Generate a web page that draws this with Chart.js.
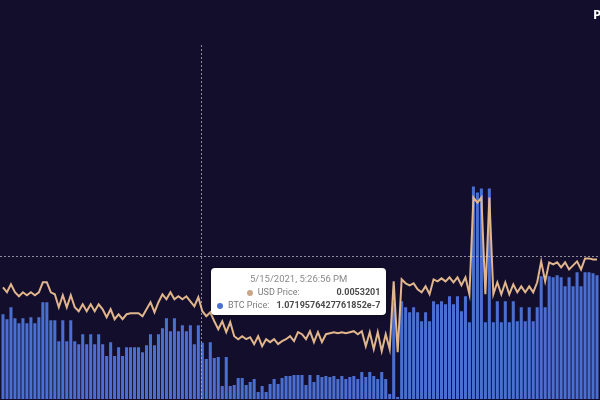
<!DOCTYPE html>
<html lang="en">
<head>
  <meta charset="UTF-8">
  <title>USD / BTC Price</title>
  <script src="https://cdn.jsdelivr.net/npm/chart.js"></script>
  <style>
    body {
      margin: 0;
      background-color: #120e2c;
      overflow: hidden;
      font-family: 'Open Sans', sans-serif;
    }
    #wrap {
      position: relative;
      width: 600px;
      height: 400px;
      overflow: hidden;
    }
    #corner {
      position: absolute;
      left: 593px;
      top: 5px;
      color: #ffffff;
      font: bold 13px 'Open Sans', sans-serif;
      white-space: nowrap;
    }
    #tip {
      position: absolute;
      display: none;
      background: #ffffff;
      border-radius: 4px;
      box-shadow: 0 1px 4px rgba(0, 0, 0, 0.35);
      padding: 3px 6px 3px 6px;
      font-family: Roboto, sans-serif;
      font-size: 9px;
      line-height: 13px;
      white-space: nowrap;
      pointer-events: none;
    }
    #tip .title {
      text-align: center;
      color: #8a8a8a;
      font-size: 9.5px;
      line-height: 15px;
    }
    #tip .row {
      display: flex;
    }
    #tip .label {
      flex: 1;
      display: flex;
      justify-content: center;
      align-items: center;
      color: #7a7a7a;
    }
    #tip .dot {
      width: 6px;
      height: 6px;
      border-radius: 50%;
      margin-right: 5px;
    }
    #tip .value {
      margin-left: 7px;
      font-weight: bold;
      color: #4a4a4a;
    }
  </style>
</head>
<body>

  <div id="wrap">
    <canvas id="priceChart"></canvas>
    <div id="corner">Price</div>
    <div id="tip"></div>
  </div>

  <script>
    // USD price of the token (line)
    const usdPrice = [
      0.005911, 0.005788, 0.005984, 0.005788, 0.005689, 0.005788, 0.005714, 0.005788, 0.005714, 0.005788,
      0.006034, 0.006034, 0.005788, 0.005738, 0.005419, 0.005714, 0.005419, 0.005714, 0.005419, 0.00532,
      0.005492, 0.00532, 0.005492, 0.00532, 0.005492, 0.005369, 0.005173, 0.005369, 0.005123, 0.005246,
      0.005123, 0.005246, 0.005271, 0.005271, 0.005271, 0.005197, 0.005369, 0.005542, 0.005296, 0.005542,
      0.005738, 0.005615, 0.005788, 0.005615, 0.005689, 0.005615, 0.005689, 0.005566, 0.005443, 0.005665,
      0.0053201, 0.005197, 0.005296, 0.005074, 0.004877, 0.005074, 0.004804, 0.00505, 0.004705, 0.004631,
      0.004705, 0.004631, 0.00468, 0.004508, 0.004705, 0.004459, 0.004631, 0.004558, 0.004631, 0.004508,
      0.004582, 0.004631, 0.004705, 0.004582, 0.004804, 0.004754, 0.004631, 0.004828, 0.004558, 0.004804,
      0.004558, 0.004754, 0.004779, 0.004804, 0.004779, 0.004804, 0.004779, 0.004804, 0.004828, 0.004754,
      0.004828, 0.004459, 0.004804, 0.004385, 0.004804, 0.004336, 0.004754, 0.004385, 0.006058, 0.004311,
      0.006107, 0.006009, 0.00596, 0.006009, 0.005861, 0.005788, 0.005935, 0.005738, 0.006107, 0.006058,
      0.006132, 0.006058, 0.006157, 0.006034, 0.006157, 0.00596, 0.006157, 0.005738, 0.008125, 0.008002,
      0.008125, 0.005738, 0.008125, 0.005738, 0.006034, 0.005738, 0.006034, 0.005738, 0.005984, 0.005788,
      0.005935, 0.005788, 0.005935, 0.005788, 0.006034, 0.00655, 0.006058, 0.006526, 0.006476, 0.006526,
      0.006403, 0.006526, 0.006353, 0.006452, 0.00655, 0.006353, 0.006624, 0.006624, 0.006599, 0.006599
    ];

    // BTC price of the token (bars)
    const btcPrice = [
      1.169e-7, 1.152e-7, 1.1928e-7, 1.1554e-7, 1.1384e-7, 1.1554e-7, 1.1384e-7, 1.1588e-7, 1.1384e-7, 1.1588e-7,
      1.2098e-7, 1.2098e-7, 1.1486e-7, 1.1486e-7, 1.0772e-7, 1.1486e-7, 1.0772e-7, 1.1486e-7, 1.0772e-7, 1.067e-7,
      1.101e-7, 1.067e-7, 1.101e-7, 1.067e-7, 1.101e-7, 1.067e-7, 1.0262e-7, 1.0738e-7, 1.0262e-7, 1.0568e-7,
      1.0262e-7, 1.0568e-7, 1.0568e-7, 1.0568e-7, 1.0568e-7, 1.0398e-7, 1.0636e-7, 1.101e-7, 1.0636e-7, 1.101e-7,
      1.1214e-7, 1.1554e-7, 1.1112e-7, 1.1554e-7, 1.1112e-7, 1.1316e-7, 1.1112e-7, 1.1316e-7, 1.067e-7, 1.1316e-7,
      1.0719576427761852e-7, 1.016e-7, 1.0738e-7, 1.0194e-7, 1.0228e-7, 0.9242e-7, 1.0228e-7, 0.9242e-7, 0.9276e-7, 0.9514e-7,
      0.9514e-7, 0.9276e-7, 0.9378e-7, 0.948e-7, 0.9038e-7, 0.9242e-7, 0.9038e-7, 0.931e-7, 0.948e-7, 0.931e-7,
      0.9514e-7, 0.9582e-7, 0.9582e-7, 0.9616e-7, 0.9616e-7, 0.9616e-7, 0.9276e-7, 0.9616e-7, 0.9378e-7, 0.9616e-7,
      0.9548e-7, 0.9582e-7, 0.9548e-7, 0.9582e-7, 0.948e-7, 0.9582e-7, 0.948e-7, 0.9548e-7, 0.9582e-7, 0.948e-7,
      0.9718e-7, 0.9548e-7, 0.9718e-7, 0.9582e-7, 0.948e-7, 0.9718e-7, 0.948e-7, 0.897e-7, 1.2098e-7, 0.8868e-7,
      1.2132e-7, 1.1928e-7, 1.1758e-7, 1.1928e-7, 1.1758e-7, 1.1452e-7, 1.1758e-7, 1.1452e-7, 1.2132e-7, 1.203e-7,
      1.2132e-7, 1.203e-7, 1.2302e-7, 1.203e-7, 1.2302e-7, 1.1792e-7, 1.2302e-7, 1.1418e-7, 1.6042e-7, 1.5838e-7,
      1.5974e-7, 1.1418e-7, 1.5974e-7, 1.1418e-7, 1.2132e-7, 1.1418e-7, 1.2132e-7, 1.1418e-7, 1.2132e-7, 1.1452e-7,
      1.1928e-7, 1.1452e-7, 1.1928e-7, 1.1452e-7, 1.1928e-7, 1.2982e-7, 1.1928e-7, 1.2982e-7, 1.2948e-7, 1.3016e-7,
      1.2948e-7, 1.2642e-7, 1.2948e-7, 1.2642e-7, 1.3118e-7, 1.2642e-7, 1.3118e-7, 1.3118e-7, 1.3084e-7, 1.3016e-7
    ];

    // time of the hovered sample and spacing between samples (seconds)
    const hoverIndex = 50;
    const hoverTime = new Date(2021, 4, 15, 17, 26, 56);
    const stepSeconds = 300;
    const timeLabels = btcPrice.map((_, i) =>
      new Date(hoverTime.getTime() + (i - hoverIndex) * stepSeconds * 1000).toLocaleString('en-US'));

    // visible ranges of the two hidden axes
    const btcRange = [0.88e-7, 2.087e-7];
    const usdRange = [0.0031553, 0.0118883];
    const crosshairBtc = 1.366e-7; // mouse height, on the BTC axis

    const lineColor = '#e2b68c';
    const barColor = '#4b6fd1';

    // crosshair drawn over the data
    const crosshair = {
      id: 'crosshair',
      afterDatasetsDraw(chart) {
        const { ctx, chartArea, scales } = chart;
        const x = Math.round(scales.x.getPixelForValue(hoverIndex)) - 0.5;
        const y = Math.round(scales.y.getPixelForValue(crosshairBtc)) + 0.5;
        ctx.save();
        ctx.setLineDash([2, 2]);
        ctx.lineWidth = 1;
        ctx.strokeStyle = 'rgba(190, 180, 195, 0.75)';
        ctx.beginPath();
        ctx.moveTo(x, chartArea.top);
        ctx.lineTo(x, chartArea.bottom);
        ctx.moveTo(0, y);
        ctx.lineTo(chart.width, y);
        ctx.stroke();
        ctx.restore();
      }
    };

    function renderTip({ chart, tooltip }) {
      const el = document.getElementById('tip');
      if (tooltip.opacity === 0 || !tooltip.dataPoints.length) {
        el.style.display = 'none';
        return;
      }
      const idx = tooltip.dataPoints[0].dataIndex;
      let html = `<div class="title">${timeLabels[idx]}</div>`;
      tooltip.dataPoints.forEach((p) => {
        const c = p.dataset.type === 'line' ? '#c9a688' : barColor;
        html += `<div class="row"><span class="label"><span class="dot" style="background:${c}"></span>${p.dataset.label}:</span>` +
                `<span class="value">${String(p.raw)}</span></div>`;
      });
      el.innerHTML = html;
      el.style.display = 'block';
      el.style.left = (chart.scales.x.getPixelForValue(idx) + 9) + 'px';
      el.style.top = (chart.scales.y.getPixelForValue(crosshairBtc) + 11) + 'px';
    }

    const ctx = document.getElementById('priceChart').getContext('2d');
    const chart = new Chart(ctx, {
      data: {
        labels: timeLabels,
        datasets: [
          {
            type: 'line',
            label: 'USD Price',
            data: usdPrice,
            yAxisID: 'yUsd',
            borderColor: lineColor,
            borderWidth: 2,
            pointRadius: 0,
            tension: 0
          },
          {
            type: 'bar',
            label: 'BTC Price',
            data: btcPrice,
            yAxisID: 'y',
            backgroundColor: barColor,
            barPercentage: 0.85,
            categoryPercentage: 0.9
          }
        ]
      },
      options: {
        responsive: true,
        maintainAspectRatio: false,
        animation: false,
        events: [],
        layout: { padding: { top: 45, left: 0, right: 0, bottom: 0 } },
        scales: {
          x: { display: false },
          y: { display: false, min: btcRange[0], max: btcRange[1] },
          yUsd: { display: false, position: 'right', min: usdRange[0], max: usdRange[1] }
        },
        plugins: {
          legend: { display: false },
          tooltip: {
            enabled: false,
            mode: 'index',
            intersect: false,
            external: renderTip
          }
        }
      },
      plugins: [crosshair]
    });

    // show the hovered sample like in the screenshot
    chart.tooltip.setActiveElements(
      [{ datasetIndex: 0, index: hoverIndex }, { datasetIndex: 1, index: hoverIndex }],
      { x: chart.scales.x.getPixelForValue(hoverIndex), y: chart.scales.y.getPixelForValue(crosshairBtc) }
    );
    chart.update();
  </script>

</body>
</html>
